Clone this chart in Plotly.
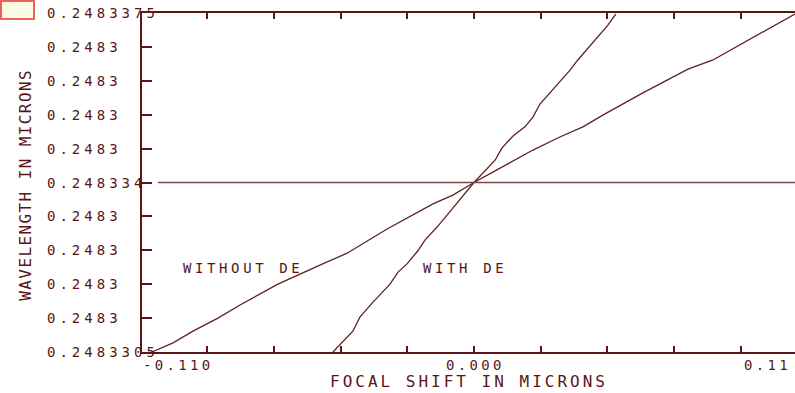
import json
import plotly.graph_objects as go

# ---------------- data ----------------
focal_without_de = [-0.1327, -0.1240, -0.1158, -0.1055, -0.0964, -0.0808, -0.0614, -0.0523,
                    -0.0358, -0.0264, -0.0169, -0.0087, 0.0, 0.0087, 0.0243, 0.0354,
                    0.0449, 0.0531, 0.0696, 0.0882, 0.0985, 0.1323]
wave_without_de = [0.24833050, 0.24833069, 0.24833093, 0.24833120, 0.24833147, 0.24833190,
                   0.24833234, 0.24833254, 0.24833304, 0.24833329, 0.24833356, 0.24833374,
                   0.24833400, 0.24833424, 0.24833467, 0.24833494, 0.24833515, 0.24833539,
                   0.24833585, 0.24833634, 0.24833653, 0.24833748]

focal_with_de = [-0.0581, -0.0544, -0.0499, -0.0470, -0.0416, -0.0346, -0.0313, -0.0276,
                 -0.0231, -0.0202, -0.0152, -0.0087, 0.0, 0.0087, 0.0115, 0.0161,
                 0.0210, 0.0243, 0.0272, 0.0396, 0.0428, 0.0552, 0.0585]
wave_with_de = [0.24833050, 0.24833069, 0.24833093, 0.24833122, 0.24833153, 0.24833190,
                0.24833215, 0.24833232, 0.24833259, 0.24833281, 0.24833308, 0.24833347,
                0.24833400, 0.24833446, 0.24833471, 0.24833496, 0.24833515, 0.24833535,
                0.24833562, 0.24833632, 0.24833653, 0.24833725, 0.24833748]

ref_wavelength = 0.248334

y_tick_values = [0.2483305, 0.2483312, 0.2483319, 0.2483326, 0.2483333, 0.2483340,
                 0.2483347, 0.2483354, 0.2483361, 0.2483368, 0.2483375]
y_tick_labels = ["0.2483305", "0.2483", "0.2483", "0.2483", "0.2483", "0.248334",
                 "0.2483", "0.2483", "0.2483", "0.2483", "0.2483375"]

x_tick_values = [-0.1100, -0.0825, -0.0550, -0.0275, 0.0, 0.0275, 0.0550, 0.0825, 0.1100]
x_label_values = [-0.110, 0.0, 0.110]
x_label_texts = ["-0.110", "0.000", "0.11"]

curve_label_texts = ["WITHOUT DE", "WITH DE"]
curve_label_x = [-0.1203, -0.0214]
curve_label_y = [0.24833223, 0.24833223]

x_title = "FOCAL SHIFT IN MICRONS"
y_title = "WAVELENGTH IN MICRONS"

# ---------------- style ----------------
W, H = 795, 393
ML, MR, MT, MB = 142, 0, 13, 41
PW, PH = W - ML - MR, H - MT - MB
X_RANGE = [-0.1368, 0.1323]
Y_RANGE = [0.2483305, 0.2483375]

INK = "#5a1616"
CURVE = "#5e2222"
REF = "#7d4848"
FONT = "DejaVu Sans Mono"


def px_x(p):
    return (p - ML) / PW


def px_y(p):
    return (H - MB - p) / PH


fig = go.Figure()
fig.add_trace(go.Scatter(x=focal_without_de, y=wave_without_de, mode="lines",
                         line=dict(color=CURVE, width=1.3), name="WITHOUT DE"))
fig.add_trace(go.Scatter(x=focal_with_de, y=wave_with_de, mode="lines",
                         line=dict(color=CURVE, width=1.3), name="WITH DE"))

# horizontal reference line at the centre wavelength
fig.add_shape(type="line", xref="paper", yref="y", x0=px_x(158), x1=1.0,
              y0=ref_wavelength, y1=ref_wavelength, line=dict(color=REF, width=1.6))

# small boxed marker at top-left corner
fig.add_shape(type="rect", xref="paper", yref="paper", x0=px_x(1), x1=px_x(34),
              y0=px_y(19), y1=px_y(1), line=dict(color="#f06060", width=2),
              fillcolor="#fefbe4")

annotations = []
spacings = []

# y tick labels (left aligned)
for v, t in zip(y_tick_values, y_tick_labels):
    annotations.append(dict(xref="paper", yref="y", x=px_x(46), y=v, text=t,
                            xanchor="left", yanchor="middle", align="left",
                            showarrow=False, borderpad=0,
                            font=dict(family=FONT, size=14, color=INK)))
    spacings.append(4.0)

# x tick labels
x_label_shift = [-65, -29, 2]
for v, t, s in zip(x_label_values, x_label_texts, x_label_shift):
    annotations.append(dict(xref="x", yref="paper", x=v, y=px_y(365), text=t,
                            xanchor="left", yanchor="middle", align="left", xshift=s,
                            showarrow=False, borderpad=0,
                            font=dict(family=FONT, size=14, color=INK)))
    spacings.append(3.3)

# curve labels
for t, xv, yv in zip(curve_label_texts, curve_label_x, curve_label_y):
    annotations.append(dict(xref="x", yref="y", x=xv, y=yv, text=t,
                            xanchor="left", yanchor="middle", align="left",
                            showarrow=False, borderpad=0,
                            font=dict(family=FONT, size=14, color=INK)))
    spacings.append(3.6)

# axis titles
annotations.append(dict(xref="paper", yref="paper", x=px_x(469), y=px_y(381), text=x_title,
                        xanchor="center", yanchor="middle", showarrow=False, borderpad=0,
                        font=dict(family=FONT, size=16, color=INK)))
spacings.append(3.0)
annotations.append(dict(xref="paper", yref="paper", x=px_x(25), y=px_y(185), text=y_title,
                        textangle=-90, xanchor="center", yanchor="middle", showarrow=False,
                        borderpad=0, font=dict(family=FONT, size=16, color=INK)))
spacings.append(1.4)

fig.update_layout(
    width=W, height=H, autosize=False,
    margin=dict(l=ML, r=MR, t=MT, b=MB, pad=0),
    paper_bgcolor="white", plot_bgcolor="white",
    showlegend=False,
    annotations=annotations,
    xaxis=dict(range=X_RANGE, tickvals=x_tick_values, showticklabels=False,
               ticks="inside", ticklen=6, tickwidth=2, tickcolor=INK,
               showline=True, linecolor=INK, linewidth=2, mirror="ticks",
               showgrid=False, zeroline=False, fixedrange=True),
    yaxis=dict(range=Y_RANGE, tickvals=y_tick_values, showticklabels=False,
               ticks="inside", ticklen=10, tickwidth=2, tickcolor=INK,
               showline=True, linecolor=INK, linewidth=2, mirror=False,
               showgrid=False, zeroline=False, fixedrange=True),
)

post = """
document.body.style.margin = '0';
var sp = %s;
document.querySelectorAll('g.annotation').forEach(function(g){
  var i = parseInt(g.getAttribute('data-index'));
  var t = g.querySelector('text.annotation-text');
  if (t && !isNaN(i) && sp[i] !== undefined) { t.style.letterSpacing = sp[i] + 'px'; }
});
""" % json.dumps(spacings)

fig.write_html("out.html", config={"displayModeBar": False}, post_script=post)
